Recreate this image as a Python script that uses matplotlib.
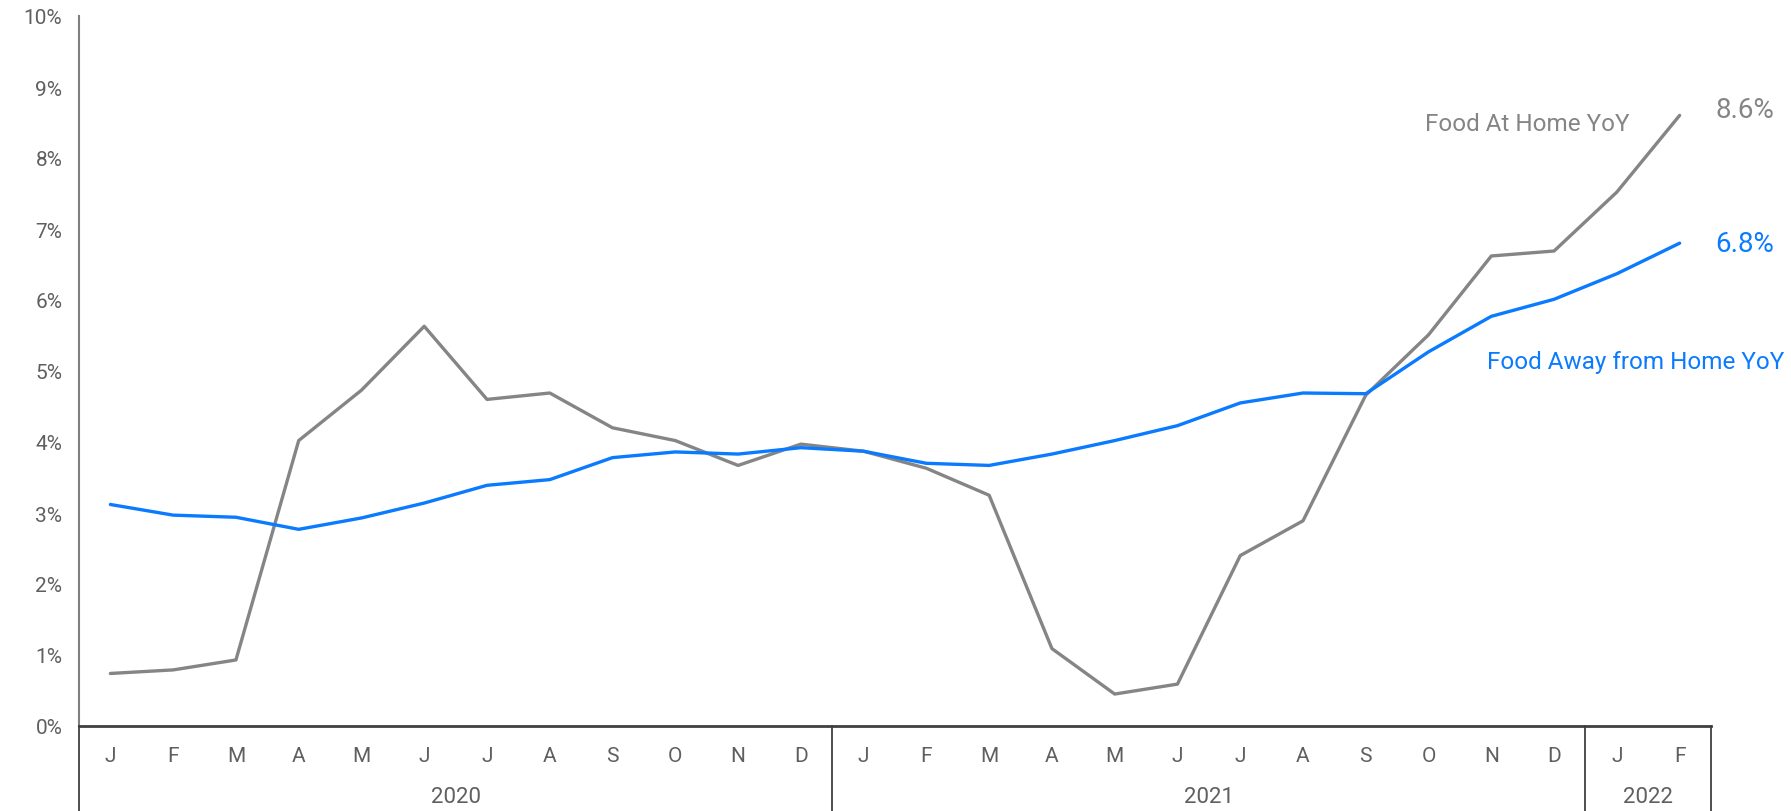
import numpy as np
import matplotlib
matplotlib.use("Agg")
import matplotlib.pyplot as plt
from matplotlib.ticker import FuncFormatter
from matplotlib.transforms import blended_transform_factory

plt.rcParams['font.family'] = ['Roboto', 'DejaVu Sans']

# monthly YoY change, Jan 2020 - Feb 2022 (percent)
months = ["J", "F", "M", "A", "M", "J", "J", "A", "S", "O", "N", "D",
          "J", "F", "M", "A", "M", "J", "J", "A", "S", "O", "N", "D",
          "J", "F"]
years = ["2020", "2021", "2022"]
year_lengths = [12, 12, 2]

food_at_home = [0.74, 0.79, 0.93, 4.02, 4.73, 5.63, 4.60, 4.69, 4.20, 4.02, 3.67, 3.97,
                3.87, 3.63, 3.25, 1.09, 0.45, 0.59, 2.40, 2.89, 4.66, 5.51, 6.62, 6.69,
                7.52, 8.6]
food_away = [3.12, 2.97, 2.94, 2.77, 2.93, 3.14, 3.39, 3.47, 3.78, 3.86, 3.83, 3.92,
             3.87, 3.70, 3.67, 3.83, 4.02, 4.23, 4.55, 4.69, 4.68, 5.27, 5.77, 6.01,
             6.37, 6.8]

GRAY = "#858585"
BLUE = "#0a7bff"
TEXT = "#5f5f5f"

W, H = 1791, 812
fig = plt.figure(figsize=(W / 100, H / 100), dpi=100)
ax = fig.add_axes([79 / W, 1 - 727 / H, (1711 - 79) / W, (727 - 17) / H])

x = np.arange(len(months))
ax.plot(x, food_at_home, color=GRAY, lw=2.4, solid_capstyle="round", zorder=3)
ax.plot(x, food_away, color=BLUE, lw=2.4, solid_capstyle="round", zorder=4)

ax.set_xlim(-0.5, len(months) - 0.5)
ax.set_ylim(0, 10)
ax.set_yticks(np.arange(0, 11, 1))
ax.yaxis.set_major_formatter(FuncFormatter(lambda v, p: f"{v:.0f}%"))
ax.tick_params(axis="y", length=0, pad=12, labelsize=15, labelcolor=TEXT)
ax.set_xticks([])

for s in ["top", "right"]:
    ax.spines[s].set_visible(False)
ax.spines["left"].set_color("#7f7f7f")
ax.spines["left"].set_linewidth(1.5)
ax.spines["bottom"].set_color("#404040")
ax.spines["bottom"].set_linewidth(2)

# two-level category axis below the plot
bot = -(1 - 727 / H) / ((727 - 17) / H)
trans = blended_transform_factory(ax.transData, ax.transAxes)
for i, m in enumerate(months):
    ax.text(i, -0.042, m, transform=trans, ha="center", va="center",
            fontsize=15, color=TEXT)

edges = np.concatenate([[0], np.cumsum(year_lengths)]) - 0.5
for e in edges:
    ax.plot([e, e], [0, bot], transform=trans, color="#404040", lw=1.3,
            clip_on=False, zorder=5)
for y, a, b in zip(years, edges[:-1], edges[1:]):
    ax.text((a + b) / 2, -0.1, y, transform=trans, ha="center", va="center",
            fontsize=16, color=TEXT)

# series labels
last = len(months) - 1
ax.annotate(f"{food_at_home[-1]:.1f}%", (last, food_at_home[-1]), xytext=(26, 4),
            textcoords="offset points", ha="left", va="center",
            fontsize=20, color=GRAY, annotation_clip=False)
ax.annotate(f"{food_away[-1]:.1f}%", (last, food_away[-1]), xytext=(26, 0),
            textcoords="offset points", ha="left", va="center",
            fontsize=20, color=BLUE, annotation_clip=False)
ax.text(22.57, 8.49, "Food At Home YoY", ha="center", va="center",
        fontsize=17.5, color=GRAY)
ax.text(24.3, 5.13, "Food Away from Home YoY", ha="center", va="center",
        fontsize=17.5, color=BLUE, clip_on=False)

fig.savefig("out.png", dpi=100, facecolor="white")
